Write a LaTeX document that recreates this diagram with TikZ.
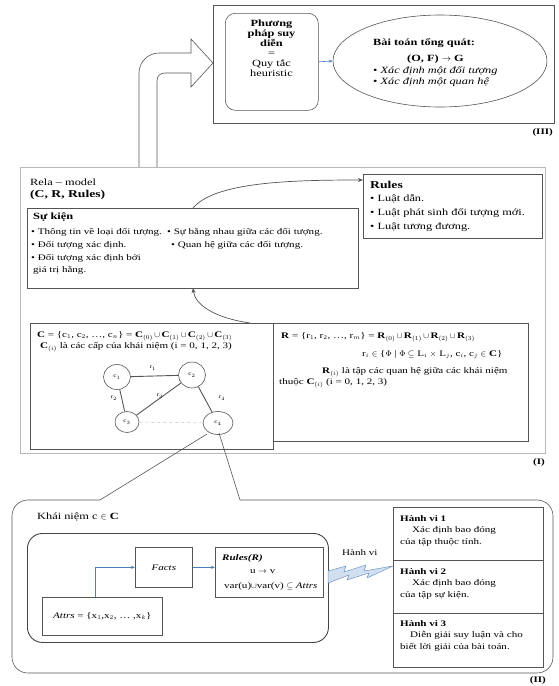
\documentclass[tikz,border=0pt]{standalone}
\usepackage{fontspec}
\setmainfont{Liberation Serif}[FakeStretch=1.3]
\usetikzlibrary{arrows.meta,shapes.geometric}
\definecolor{lnc}{HTML}{555555}
\definecolor{blc}{HTML}{4A7EBB}
\newcommand\myfs{\fontsize{9.5}{10.5}\selectfont}
\newcommand\mysm{\fontsize{8.5}{9.5}\selectfont}
\newcommand\mytiny{\fontsize{5.5}{6}\selectfont}
\newcommand\bC{\textbf{C}}
\newcommand\bR{\textbf{R}}
\begin{document}
\begin{tikzpicture}[x=1pt,y=-1pt,
  box/.style={draw=lnc, line width=0.6pt, inner sep=0pt, anchor=north west},
  t/.style={inner sep=0pt, anchor=west, font=\myfs},
  ts/.style={inner sep=0pt, anchor=west, font=\mysm},
  arr/.style={draw=blc, line width=0.6pt, -{Stealth[length=4pt,width=3pt]}},
  garr/.style={draw=lnc, line width=0.7pt, -{Stealth[length=5pt,width=4pt]}},
  cn/.style={draw=lnc, ellipse, line width=0.6pt, inner sep=0pt, font=\mytiny},
  ge/.style={draw=lnc, line width=0.9pt},
  el/.style={inner sep=0pt, font=\mytiny}
]
\useasboundingbox (0,0) rectangle (558,686);

% ---------- (III) ----------
\node[box, minimum width=341, minimum height=118] (boxIII) at (213,5) {};
\node[inner sep=0pt, font=\mysm\bfseries, anchor=east] (lIII) at (553,132) {(III)};
\node[box, rounded corners=10pt, minimum width=93, minimum height=97] (pbox) at (225,13) {};
\node[inner sep=0pt, anchor=north, align=center, font=\fontsize{9.5}{10}\selectfont] (ptext) at (271.5,20)
  {\textbf{Phương}\\\textbf{pháp suy}\\\textbf{diễn}\\=\\Quy tắc\\heuristic};
\node[draw=lnc, line width=0.6pt, ellipse, minimum width=214, minimum height=92] (goal) at (440,61) {};
\node[t, font=\myfs\bfseries] (g1) at (373,43) {Bài toán tổng quát:};
\node[t, font=\myfs\bfseries] (g2) at (407,59) {(O, F) $\rightarrow$ G};
\node[t] (g3) at (373,71) {• \textit{Xác định một đối tượng}};
\node[t] (g4) at (373,82) {• \textit{Xác định một quan hệ}};
\draw[arr] (pbox.east) -- (goal.west);

% hollow arrow
\draw[lnc, line width=0.6pt, fill=white] (139,167) -- (139,73) .. controls (139,62) and (148,53) .. (159,53)
  -- (191,53) -- (191,39) -- (213,63) -- (191,87) -- (191,73) -- (165,73)
  .. controls (160,73) and (157,76) .. (157,81) -- (157,167);

% ---------- (I) ----------
\node[box, draw=gray!55, line width=1.3pt, minimum width=525, minimum height=286] (boxI) at (20,167) {};
\node[inner sep=0pt, font=\mysm\bfseries, anchor=east] (lI) at (545,462) {(I)};
\node[t] (rela) at (30,182) {Rela – model};
\node[t, font=\fontsize{10.5}{11}\selectfont\bfseries] (cer) at (30,195) {(\bC, \bR, Rules)};

% Su kien
\node[box, minimum width=331, minimum height=80] (sk) at (27,208) {};
\node[t, font=\myfs\bfseries] (sk0) at (33,217) {Sự kiện};
\node[ts] (sk1) at (31,232) {• Thông tin về loại đối tượng.};
\node[ts] (sk2) at (31,245) {• Đối tượng xác định.};
\node[ts] (sk3) at (31,258) {• Đối tượng xác định bởi};
\node[ts] (sk4) at (33,270) {giá trị hằng.};
\node[ts] (sk5) at (167,232) {• Sự bằng nhau giữa các đối tượng.};
\node[ts] (sk6) at (171,245) {• Quan hệ giữa các đối tượng.};

% Rules
\node[box, line width=0.9pt, minimum width=179, minimum height=64] (rules) at (363,174) {};
\node[t, font=\fontsize{10.5}{11}\selectfont\bfseries] (ru0) at (370,185) {Rules};
\node[t] (ru1) at (370,199) {• Luật dẫn.};
\node[t] (ru2) at (370,213) {• Luật phát sinh đối tượng mới.};
\node[t] (ru3) at (370,227) {• Luật tương đương.};

\coordinate (skt) at (193,208);
\coordinate (skb) at (193,288);
\coordinate (rul) at (363,180);
\coordinate (cbt) at (250,323);
\draw[garr] (skt) .. controls (215,182) and (290,180) .. (rul);
\draw[garr] (cbt) .. controls (215,318) and (195,305) .. (skb);

% C box
\node[box, line width=0.8pt, minimum width=243, minimum height=126] (cbox) at (30,323) {};
\node[ts] (c1t) at (37,336) {\bC{} = \{c$_1$, c$_2$, …, c$_n$\} = \bC$_{(0)}$$\,\cup\,$\bC$_{(1)}$$\,\cup\,$\bC$_{(2)}$$\,\cup\,$\bC$_{(3)}$};
\node[ts] (c2t) at (40,347) {\bC$_{(i)}$ là các cấp của khái niệm (i = 0, 1, 2, 3)};
% R box
\node[box, line width=0.8pt, minimum width=255, minimum height=118] (rbox) at (273,323) {};
\node[ts] (r1t) at (281,337) {\bR{} = \{r$_1$, r$_2$, …, r$_m$\} = \bR$_{(0)}$$\,\cup\,$\bR$_{(1)}$$\,\cup\,$\bR$_{(2)}$$\,\cup\,$\bR$_{(3)}$};
\node[ts] (r2t) at (362,355) {r$_i$ $\in$ \{$\Phi$ | $\Phi \subseteq$ L$_i$ $\times$ L$_j$, c$_i$, c$_j$ $\in$ \bC\}};
\node[ts] (r3t) at (322,372) {\bR$_{(i)}$ là tập các quan hệ giữa các khái niệm};
\node[ts] (r4t) at (279,383) {thuộc \bC$_{(i)}$ (i = 0, 1, 2, 3)};

% graph
\node[cn, minimum width=27, minimum height=25] (n1) at (117,377) {c$_1$};
\node[cn, minimum width=27, minimum height=26] (n2) at (192,375) {c$_2$};
\node[cn, minimum width=24, minimum height=21] (n3) at (127,422) {c$_3$};
\node[cn, minimum width=30, minimum height=23] (n4) at (218,423) {c$_4$};
\draw[ge] (n1) -- (n2);
\draw[ge] (n1) -- (n3);
\draw[ge] (n3) -- (n2);
\draw[ge] (n2) -- (n4);
\draw[draw=gray!50, dashed, line width=0.5pt] (n3) -- (n4);
\node[el] (e1) at (153,368) {r$_1$};
\node[el] (e2) at (114,398) {r$_2$};
\node[el] (e3) at (160,396) {r$_3$};
\node[el] (e4) at (222,398) {r$_4$};

% ---------- (II) ----------
\coordinate (pa) at (207,434);
\coordinate (pb) at (219,433);
\draw[lnc, line width=0.6pt] (pb) -- (240,500) -- (537,500) .. controls (546,500) and (553,507) .. (553,516)
  -- (553,657) .. controls (553,666) and (546,673) .. (537,673) -- (28,673)
  .. controls (19,673) and (12,666) .. (12,657) -- (12,516) .. controls (12,507) and (19,500) .. (28,500)
  -- (100,500) -- (pa);
\node[inner sep=0pt, font=\mysm\bfseries, anchor=east] (lII) at (546,680) {(II)};
\node[t] (kn) at (37,517) {Khái niệm c $\in$ \bC};

\node[box, draw=lnc!80!black, line width=0.9pt, rounded corners=15pt, minimum width=301, minimum height=109] (inner) at (27,533) {};
\node[box, minimum width=120, minimum height=38] (attrs) at (42,597) {};
\node[ts, anchor=center] at (attrs.center) {\textit{Attrs} = \{x$_1$,x$_2$, … ,x$_k$\}};
\node[box, minimum width=57, minimum height=40] (facts) at (135,547) {};
\node[ts, anchor=center] at (facts.center) {\textit{Facts}};
\node[box, minimum width=108, minimum height=50] (rr) at (215,547) {};
\node[ts] (rr1) at (222,558) {\textbf{\textit{Rules(R)}}};
\node[ts] (rr2) at (250,572) {u $\rightarrow$ v};
\node[ts] (rr3) at (224,586) {var(u)$\cup$var(v) $\subseteq$ \textit{Attrs}};
\draw[arr] (95,597) |- (facts.west);
\draw[arr] (facts.east) -- (rr.west |- facts.east);

\node[ts] (hvl) at (342,553) {Hành vi};
\draw[draw=blc!80, fill=blc!25, line width=0.5pt, line join=round]
  (328,571) -- (346,566) -- (344,572) -- (366,565) -- (364,571) -- (393,566)
  -- (367,578) -- (369,573) -- (347,580) -- (349,575) -- (328,583) -- cycle;

\node[box, minimum width=150, minimum height=53] (hv1) at (393,507) {};
\node[box, minimum width=150, minimum height=53] (hv2) at (393,560) {};
\node[box, minimum width=150, minimum height=54] (hv3) at (393,613) {};
\node[ts, font=\mysm\bfseries] at (400,519) {Hành vi 1};
\node[ts] at (412,530) {Xác định bao đóng};
\node[ts] at (400,542) {của tập thuộc tính.};
\node[ts, font=\mysm\bfseries] at (400,572) {Hành vi 2};
\node[ts] at (412,583) {Xác định bao đóng};
\node[ts] at (400,595) {của tập sự kiện.};
\node[ts, font=\mysm\bfseries] at (400,624) {Hành vi 3};
\node[ts] at (410,635) {Diễn giải suy luận và cho};
\node[ts] at (400,647) {biết lời giải của bài toán.};
\end{tikzpicture}
\end{document}
